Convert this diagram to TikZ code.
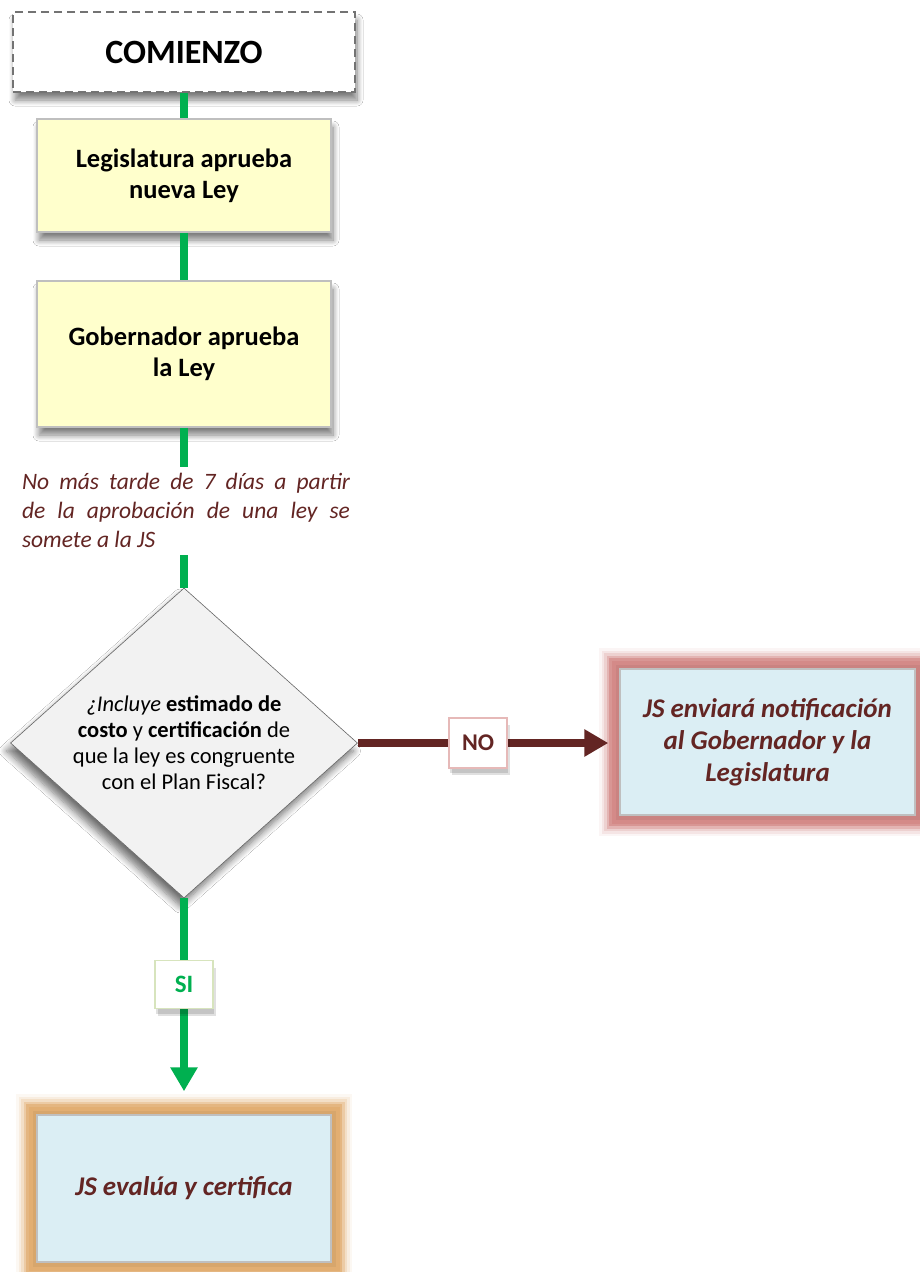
\documentclass[tikz,border=0pt]{standalone}
\usepackage{fontspec}
\setmainfont{Carlito}
\usetikzlibrary{shapes.geometric,arrows.meta,shadows.blur,calc}
\definecolor{flowgreen}{HTML}{00B050}
\definecolor{maroon}{HTML}{632523}
\definecolor{boxyellow}{HTML}{FFFFCC}
\definecolor{boxgray}{HTML}{BFBFBF}
\definecolor{lightblue}{HTML}{DBEEF4}
\definecolor{diafill}{HTML}{F2F2F2}
\definecolor{glowred}{HTML}{D48A88}
\definecolor{gloworange}{HTML}{E2AE72}
\definecolor{lbgreen}{HTML}{D7E4BD}
\definecolor{lbred}{HTML}{E6B9B8}
\tikzset{
  boxshadow/.style={blur shadow={shadow xshift=2pt, shadow yshift=-8pt, shadow blur steps=8, shadow blur radius=6pt, shadow opacity=50}},
  startbox/.style={draw=gray!90!black, dashed, dash pattern=on 8pt off 5pt, line width=1.5pt, fill=white,
     minimum width=342pt, minimum height=80pt, inner sep=0pt, font=\fontsize{34}{38}\selectfont\bfseries, boxshadow},
  yellowbox/.style={draw=boxgray, line width=1.5pt, fill=boxyellow, minimum width=294pt, inner sep=0pt,
     align=center, font=\fontsize{26.5}{31}\selectfont\bfseries, boxshadow},
  glow/.style={
     preaction={draw=#1, draw opacity=0.08, line width=42pt},
     preaction={draw=#1, draw opacity=0.14, line width=37pt},
     preaction={draw=#1, draw opacity=0.22, line width=32pt},
     preaction={draw=#1, draw opacity=0.40, line width=27pt},
     preaction={draw=#1, draw opacity=0.70, line width=22pt},
     preaction={draw=#1, draw opacity=1, line width=17pt},
     preaction={draw=#1!85!black, draw opacity=0.30, line width=9pt}},
  bluebox/.style={draw=boxgray, line width=1.5pt, fill=lightblue, minimum width=295pt, minimum height=146pt, inner sep=0pt,
     align=center, text=maroon, font=\fontsize{27}{32}\selectfont\bfseries\itshape},
  decision/.style={diamond, draw=gray!80!black, line width=0.6pt, fill=diafill, minimum width=347pt, minimum height=310pt,
     aspect=1.12, inner sep=0pt, align=center, font=\fontsize{22.5}{26}\selectfont,
     blur shadow={shadow xshift=-4pt, shadow yshift=-8pt, shadow blur steps=8, shadow blur radius=7pt, shadow opacity=55}},
  notetext/.style={text width=328pt, inner sep=0pt, align=justify, text=maroon, font=\fontsize{23.5}{29}\selectfont\itshape},
  greenline/.style={draw=flowgreen, line width=8pt},
  maroonline/.style={draw=maroon, line width=8pt},
  lblshadow/.style={preaction={fill=black, fill opacity=0.12, transform canvas={shift={(3pt,-7pt)}}},
     preaction={fill=black, fill opacity=0.12, transform canvas={shift={(1pt,-5pt)}}}},
  nolabel/.style={draw=lbred, line width=1.5pt, fill=white, minimum width=58pt, minimum height=50pt, inner sep=0pt,
     text=maroon, font=\fontsize{24}{26}\selectfont\bfseries, lblshadow},
  silabel/.style={draw=lbgreen, line width=1.5pt, fill=white, minimum width=58pt, minimum height=48pt, inner sep=0pt,
     text=flowgreen, font=\fontsize{25}{27}\selectfont\bfseries, lblshadow},
}
\begin{document}
\begin{tikzpicture}[x=1pt,y=-1pt]
\useasboundingbox (0,0) rectangle (920,1272);
\fill[white] (0,0) rectangle (920,1272);

\node[startbox] (start) at (184,52) {COMIENZO};
\node[yellowbox, minimum height=113pt] (leg) at (184,175.5) {Legislatura aprueba\\nueva Ley};
\node[yellowbox, minimum height=146pt] (gob) at (184,354) {Gobernador aprueba\\la Ley};
\node[notetext] (note) at (186,510) {No más tarde de 7 días a partir\linebreak de la aprobación de una ley se\linebreak somete a la JS};
\node[decision] (dia) at (184,743) {{\itshape ¿Incluye} \textbf{estimado de}\\\textbf{costo} y \textbf{certificación} de\\que la ley es congruente\\con el Plan Fiscal?};
\node[bluebox, glow=glowred] (notif) at (767.5,742) {JS enviará notificación\\al Gobernador y la\\Legislatura};
\node[bluebox, glow=gloworange, minimum width=294pt, minimum height=147pt] (eval) at (184,1188.5) {JS evalúa y certifica};

% connectors
\draw[greenline] (start.south) -- (leg.north);
\draw[greenline] (leg.south) -- (gob.north);
\draw[greenline] (gob.south) -- ($(gob.south |- note.north)+(0,-6)$);
\draw[greenline] ($(dia.north |- note.south)+(0,8)$) -- (dia.north);
\draw[maroonline, -{Triangle[length=24pt,width=26pt]}, shorten >=11pt] (dia.east) -- node[nolabel, pos=0.46] (no) {NO} (dia.east -| notif.west);
\draw[greenline, -{Triangle[length=24pt,width=26pt]}, shorten >=23pt] (dia.south) -- node[silabel, pos=0.40] (si) {SI} (eval.north);
\end{tikzpicture}
\end{document}
